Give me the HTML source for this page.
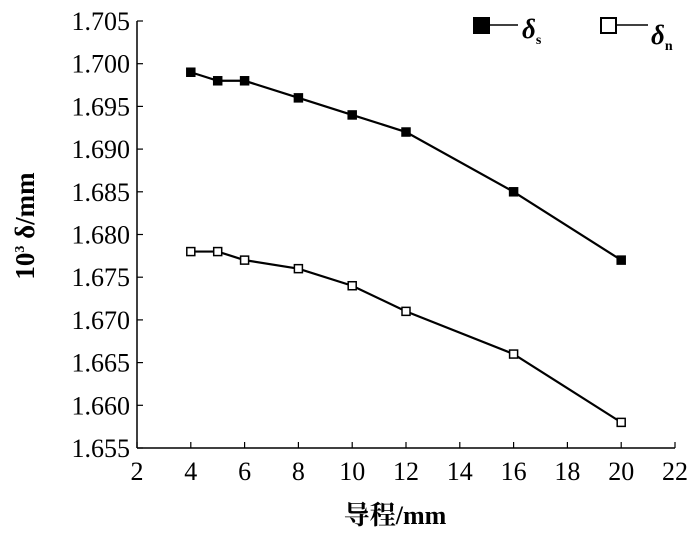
<!DOCTYPE html>
<html><head><meta charset="utf-8"><style>
body{margin:0;background:#fff}
svg text{font-family:"Liberation Serif","Noto Serif CJK SC",serif;fill:#000}
</style></head><body>
<svg width="700" height="541">
<g id="axes"></g><g id="series"></g>
<g>
<rect x="473" y="17" width="17" height="17" fill="#000"/>
<line x1="490" y1="25" x2="518" y2="25" stroke="#000" stroke-width="1.5"/>
<text x="522" y="38" font-size="27" font-weight="bold" font-style="italic">δ<tspan font-size="14" dy="6" font-style="normal">s</tspan></text>
<rect x="601" y="18" width="15" height="15" fill="#fff" stroke="#000" stroke-width="2"/>
<line x1="617" y1="25" x2="648" y2="25" stroke="#000" stroke-width="1.5"/>
<text x="651" y="44" font-size="27" font-weight="bold" font-style="italic">δ<tspan font-size="14" dy="6" font-style="normal">n</tspan></text>
</g>
<text x="395" y="524" font-size="26" font-weight="bold" text-anchor="middle">导程/mm</text>
<text transform="translate(34,226) rotate(-90)" font-size="27" font-weight="bold" text-anchor="middle">10<tspan font-size="14" dy="-10">3</tspan><tspan dy="10"> δ/mm</tspan></text>
</svg>
<script>
const xVals=[4,5,6,8,10,12,16,20];
const sVals=[1.699,1.698,1.698,1.696,1.694,1.692,1.685,1.677];
const nVals=[1.678,1.678,1.677,1.676,1.674,1.671,1.666,1.658];
const xTicks=[2,4,6,8,10,12,14,16,18,20,22];
const yTicks=[1.655,1.660,1.665,1.670,1.675,1.680,1.685,1.690,1.695,1.700,1.705];
const NS='http://www.w3.org/2000/svg';
const X0=137,X1=675,Y0=448,Y1=21;
const xs=v=>X0+(v-2)/20*(X1-X0);
const ys=v=>Y0-(v-1.655)/0.05*(Y0-Y1);
function mk(tag,at,parent){const e=document.createElementNS(NS,tag);for(const k in at)e.setAttribute(k,at[k]);parent.appendChild(e);return e;}
const ax=document.getElementById('axes'),se=document.getElementById('series');
let l=mk('line',{x1:X0,y1:Y0,x2:X1,y2:Y0,stroke:'#000','stroke-width':1.5},ax);


l=mk('line',{x1:X0,y1:Y0,x2:X0,y2:Y1,stroke:'#000','stroke-width':1.5},ax);


xTicks.forEach(t=>{const x=xs(t);mk('line',{x1:x,y1:Y0,x2:x,y2:Y0-6,stroke:'#000','stroke-width':1.2},ax);
const tx=mk('text',{x:x,y:Y0+32,'font-size':26,'text-anchor':'middle'},ax);tx.textContent=t;

});
yTicks.forEach(t=>{const y=ys(t);mk('line',{x1:X0,y1:y,x2:X0+6,y2:y,stroke:'#000','stroke-width':1.2},ax);
const tx=mk('text',{x:X0-7,y:y+9,'font-size':26,'text-anchor':'end'},ax);tx.textContent=t.toFixed(3);

});
function series(vals,filled,name){
const p=mk('polyline',{points:xVals.map((x,i)=>xs(x)+','+ys(vals[i])).join(' '),fill:'none',stroke:'#000','stroke-width':2.2},se);


xVals.forEach((x,i)=>{const r=mk('rect',{x:xs(x)-4,y:ys(vals[i])-4,width:8,height:8,fill:filled?'#000':'#fff',stroke:'#000','stroke-width':1.5},se);

});}
series(sVals,true,'delta-s');
series(nVals,false,'delta-n');
</script>
</body></html>
